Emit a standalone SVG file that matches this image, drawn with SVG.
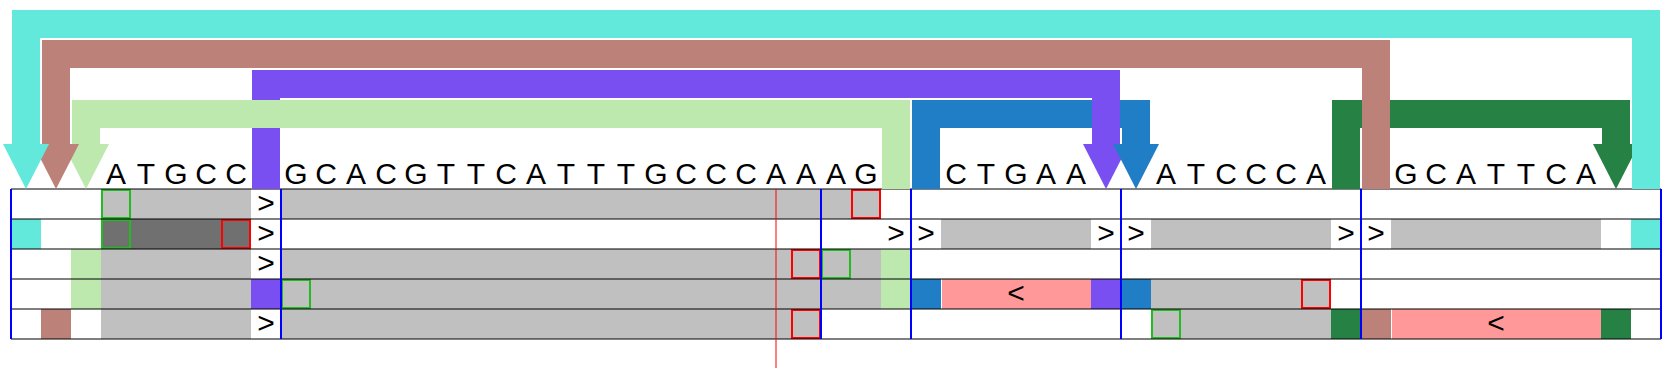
<svg xmlns="http://www.w3.org/2000/svg" width="1667" height="375" viewBox="0 0 1667 375">
<style>
.seq{font-family:"Liberation Sans",Arial,sans-serif;font-size:30px;fill:#000;text-anchor:middle}
.g{fill:#c0c0c0}
.dg{fill:#707070}
.pk{fill:#ff9999}
.gb{fill:none;stroke:#22bb22;stroke-width:2}
.rb{fill:none;stroke:#ff0000;stroke-width:2}
.ln{fill:none;stroke-width:28;stroke-linejoin:miter}
.rl{stroke:#000;stroke-opacity:0.5;stroke-width:2}
.bl{stroke:#0000ff;stroke-width:2}
</style>
<rect width="1667" height="375" fill="#fff"/>
<g id="rows">
<g id="row0">
<rect class="g" x="101" y="189" width="150" height="30"/>
<rect class="g" x="281" y="189" width="600" height="30"/>
<rect class="gb" x="102" y="190" width="28" height="28"/>
<rect class="rb" x="852" y="190" width="28" height="28"/>
<text class="seq" x="266" y="213">&gt;</text>
</g>
<g id="row1">
<rect fill="#63e9dc" x="11" y="219" width="30" height="30"/>
<rect class="dg" x="101" y="219" width="150" height="30"/>
<rect class="gb" x="102" y="220" width="28" height="28"/>
<rect class="rb" x="222" y="220" width="28" height="28"/>
<rect class="g" x="941" y="219" width="150" height="30"/>
<rect class="g" x="1151" y="219" width="180" height="30"/>
<rect class="g" x="1391" y="219" width="210" height="30"/>
<rect fill="#63e9dc" x="1631" y="219" width="30" height="30"/>
<text class="seq" x="266" y="243">&gt;</text>
<text class="seq" x="896" y="243">&gt;</text>
<text class="seq" x="926" y="243">&gt;</text>
<text class="seq" x="1106" y="243">&gt;</text>
<text class="seq" x="1136" y="243">&gt;</text>
<text class="seq" x="1346" y="243">&gt;</text>
<text class="seq" x="1376" y="243">&gt;</text>
</g>
<g id="row2">
<rect fill="#bde9af" x="71" y="249" width="30" height="30"/>
<rect class="g" x="101" y="249" width="150" height="30"/>
<rect class="g" x="281" y="249" width="600" height="30"/>
<rect fill="#bde9af" x="881" y="249" width="30" height="30"/>
<rect class="rb" x="792" y="250" width="28" height="28"/>
<rect class="gb" x="822" y="250" width="28" height="28"/>
<text class="seq" x="266" y="273">&gt;</text>
</g>
<g id="row3">
<rect fill="#bde9af" x="71" y="279" width="30" height="30"/>
<rect class="g" x="101" y="279" width="150" height="30"/>
<rect fill="#7a4ff2" x="251" y="279" width="30" height="30"/>
<rect class="g" x="281" y="279" width="600" height="30"/>
<rect class="gb" x="282" y="280" width="28" height="28"/>
<rect fill="#bde9af" x="881" y="279" width="30" height="30"/>
<rect fill="#1f7ec5" x="911" y="279" width="30" height="30"/>
<rect class="pk" x="942" y="279" width="149" height="30"/>
<rect fill="#7a4ff2" x="1091" y="279" width="30" height="30"/>
<rect fill="#1f7ec5" x="1121" y="279" width="30" height="30"/>
<rect class="g" x="1151" y="279" width="180" height="30"/>
<rect class="rb" x="1302" y="280" width="28" height="28"/>
<text class="seq" x="1016" y="303">&lt;</text>
</g>
<g id="row4">
<rect fill="#bc8279" x="41" y="309" width="30" height="30"/>
<rect class="g" x="101" y="309" width="150" height="30"/>
<rect class="g" x="281" y="309" width="540" height="30"/>
<rect class="rb" x="792" y="310" width="28" height="28"/>
<rect class="g" x="1151" y="309" width="180" height="30"/>
<rect class="gb" x="1152" y="310" width="28" height="28"/>
<rect fill="#268145" x="1331" y="309" width="30" height="30"/>
<rect fill="#bc8279" x="1361" y="309" width="30" height="30"/>
<rect class="pk" x="1392" y="309" width="209" height="30"/>
<rect fill="#268145" x="1601" y="309" width="30" height="30"/>
<text class="seq" x="266" y="333">&gt;</text>
<text class="seq" x="1496" y="333">&lt;</text>
</g>
<g id="gridlines">
<line class="rl" x1="11" y1="189" x2="1661" y2="189"/>
<line class="rl" x1="11" y1="219" x2="1661" y2="219"/>
<line class="rl" x1="11" y1="249" x2="1661" y2="249"/>
<line class="rl" x1="11" y1="279" x2="1661" y2="279"/>
<line class="rl" x1="11" y1="309" x2="1661" y2="309"/>
<line class="rl" x1="11" y1="339" x2="1661" y2="339"/>
<line class="bl" x1="11" y1="189" x2="11" y2="339"/>
<line class="bl" x1="281" y1="189" x2="281" y2="339"/>
<line class="bl" x1="821" y1="189" x2="821" y2="339"/>
<line class="bl" x1="911" y1="189" x2="911" y2="339"/>
<line class="bl" x1="1121" y1="189" x2="1121" y2="339"/>
<line class="bl" x1="1361" y1="189" x2="1361" y2="339"/>
<line class="bl" x1="1661" y1="189" x2="1661" y2="339"/>
<line x1="776" y1="189" x2="776" y2="368" stroke="#ff0000" stroke-opacity="0.5" stroke-width="2"/>
</g>
</g>
<g id="sequence">
<text class="seq" x="116" y="184">A</text>
<text class="seq" x="146" y="184">T</text>
<text class="seq" x="176" y="184">G</text>
<text class="seq" x="206" y="184">C</text>
<text class="seq" x="236" y="184">C</text>
<text class="seq" x="296" y="184">G</text>
<text class="seq" x="326" y="184">C</text>
<text class="seq" x="356" y="184">A</text>
<text class="seq" x="386" y="184">C</text>
<text class="seq" x="416" y="184">G</text>
<text class="seq" x="446" y="184">T</text>
<text class="seq" x="476" y="184">T</text>
<text class="seq" x="506" y="184">C</text>
<text class="seq" x="536" y="184">A</text>
<text class="seq" x="566" y="184">T</text>
<text class="seq" x="596" y="184">T</text>
<text class="seq" x="626" y="184">T</text>
<text class="seq" x="656" y="184">G</text>
<text class="seq" x="686" y="184">C</text>
<text class="seq" x="716" y="184">C</text>
<text class="seq" x="746" y="184">C</text>
<text class="seq" x="776" y="184">A</text>
<text class="seq" x="806" y="184">A</text>
<text class="seq" x="836" y="184">A</text>
<text class="seq" x="866" y="184">G</text>
<text class="seq" x="956" y="184">C</text>
<text class="seq" x="986" y="184">T</text>
<text class="seq" x="1016" y="184">G</text>
<text class="seq" x="1046" y="184">A</text>
<text class="seq" x="1076" y="184">A</text>
<text class="seq" x="1166" y="184">A</text>
<text class="seq" x="1196" y="184">T</text>
<text class="seq" x="1226" y="184">C</text>
<text class="seq" x="1256" y="184">C</text>
<text class="seq" x="1286" y="184">C</text>
<text class="seq" x="1316" y="184">A</text>
<text class="seq" x="1406" y="184">G</text>
<text class="seq" x="1436" y="184">C</text>
<text class="seq" x="1466" y="184">A</text>
<text class="seq" x="1496" y="184">T</text>
<text class="seq" x="1526" y="184">T</text>
<text class="seq" x="1556" y="184">C</text>
<text class="seq" x="1586" y="184">A</text>
</g>
<g id="connectors">
<path class="ln" stroke="#268145" d="M1346,189 V114 H1616 V144"/>
<polygon fill="#268145" points="1593,144 1639,144 1616,189"/>
<path class="ln" stroke="#1f7ec5" d="M926,189 V114 H1136 V144"/>
<path class="ln" stroke="#7a4ff2" d="M266,189 V84 H1106 V144"/>
<polygon fill="#7a4ff2" points="1083,144 1129,144 1106,189"/>
<polygon fill="#1f7ec5" points="1113,144 1159,144 1136,189"/>
<path class="ln" stroke="#bde9af" d="M896,189 V114 H86 V144"/>
<polygon fill="#bde9af" points="63,144 109,144 86,189"/>
<path class="ln" stroke="#bc8279" d="M1376,189 V54 H56 V144"/>
<polygon fill="#bc8279" points="33,144 79,144 56,189"/>
<path class="ln" stroke="#63e9dc" d="M1646,189 V24 H26 V144"/>
<polygon fill="#63e9dc" points="3,144 49,144 26,189"/>
</g>
</svg>
